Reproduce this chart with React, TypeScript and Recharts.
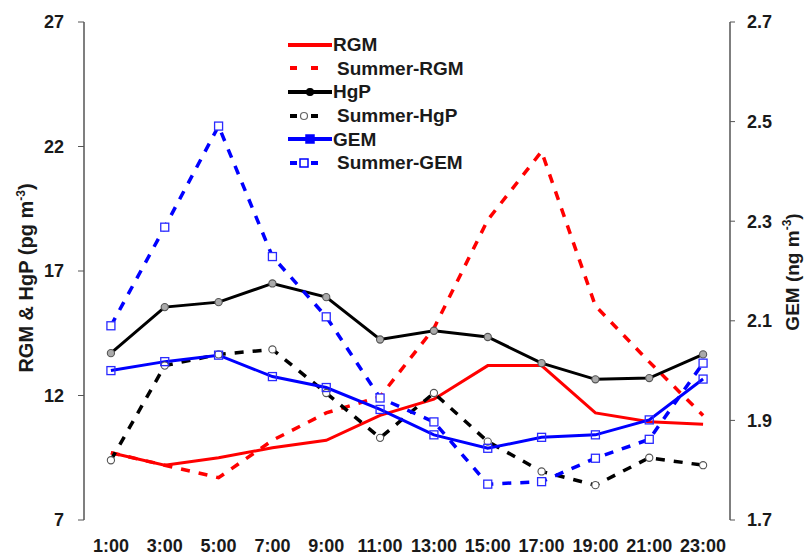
import React from 'react';
import { LineChart, Line, XAxis, YAxis, Legend } from 'recharts';

// hours of the day (x), every second hour
const HOURS = [1, 3, 5, 7, 9, 11, 13, 15, 17, 19, 21, 23];
const HOUR_LABELS = ['1:00', '3:00', '5:00', '7:00', '9:00', '11:00', '13:00', '15:00', '17:00', '19:00', '21:00', '23:00'];
const BAND_EDGES = [0, 2, 4, 6, 8, 10, 12, 14, 16, 18, 20, 22, 24];
const LEFT_TICKS = [7, 12, 17, 22, 27];
const RIGHT_TICKS = [1.7, 1.9, 2.1, 2.3, 2.5, 2.7];

// pg m-3 (left axis)
const RGM = [9.7, 9.2, 9.5, 9.9, 10.2, 11.2, 11.85, 13.2, 13.2, 11.3, 10.95, 10.85];
const SUMMER_RGM = [9.7, 9.2, 8.7, 10.2, 11.3, 11.95, 14.7, 19.05, 21.8, 15.6, 13.35, 11.2];
const HGP = [13.7, 15.55, 15.75, 16.5, 15.95, 14.25, 14.6, 14.35, 13.3, 12.65, 12.7, 13.65];
const SUMMER_HGP = [9.4, 13.2, 13.65, 13.85, 12.1, 10.3, 12.1, 10.15, 8.95, 8.4, 9.5, 9.2];
// ng m-3 (right axis)
const GEM = [2.0, 2.018, 2.031, 1.988, 1.966, 1.922, 1.871, 1.844, 1.866, 1.871, 1.901, 1.983];
const SUMMER_GEM = [2.09, 2.288, 2.491, 2.229, 2.108, 1.945, 1.897, 1.772, 1.777, 1.824, 1.862, 2.015];

const data = HOURS.map((h, i) => ({
  hour: h,
  rgm: RGM[i],
  summerRgm: SUMMER_RGM[i],
  hgp: HGP[i],
  summerHgp: SUMMER_HGP[i],
  gem: GEM[i],
  summerGem: SUMMER_GEM[i],
}));

const FONT = '"Liberation Sans", Arial, sans-serif';
const AXIS = '#555';
const TEXT = '#1a1a1a';
const DASH = '9 9';

const circleDot = (fill: string) => (p: any) => (
  <circle key={`c-${fill}-${p.index}`} cx={p.cx} cy={p.cy} r={3.6} fill={fill} stroke="#555" strokeWidth={1.1} />
);

const squareDot = (fill: string) => (p: any) => (
  <rect key={`s-${fill}-${p.index}`} x={p.cx - 4} y={p.cy - 4} width={8} height={8} fill={fill} stroke="#2a2aff" strokeWidth={1.3} />
);

const LEGEND = [
  { name: 'RGM', color: '#ff0000', dashed: false, marker: null },
  { name: 'Summer-RGM', color: '#ff0000', dashed: true, marker: null },
  { name: 'HgP', color: '#000000', dashed: false, marker: 'circle' },
  { name: 'Summer-HgP', color: '#000000', dashed: true, marker: 'circle' },
  { name: 'GEM', color: '#0000ff', dashed: false, marker: 'square' },
  { name: 'Summer-GEM', color: '#0000ff', dashed: true, marker: 'square' },
];

function LegendBox() {
  return (
    <div style={{ fontFamily: FONT, fontWeight: 'bold', fontSize: 19, color: TEXT }}>
      {LEGEND.map(e => (
        <div key={e.name} style={{ display: 'flex', alignItems: 'center', height: 23.6 }}>
          <svg width={e.dashed ? 49 : 45} height={20} style={{ flexShrink: 0 }}>
            {e.dashed ? (
              <>
                <line x1={2} y1={10} x2={9} y2={10} stroke={e.color} strokeWidth={4} />
                <line x1={23} y1={10} x2={30} y2={10} stroke={e.color} strokeWidth={4} />
              </>
            ) : (
              <line x1={0} y1={10} x2={44} y2={10} stroke={e.color} strokeWidth={4} />
            )}
            {e.marker === 'circle' && (
              <circle cx={e.dashed ? 16 : 22} cy={10} r={3.5}
                fill={e.dashed ? '#fff' : '#000'} stroke={e.dashed ? '#666' : '#000'} strokeWidth={1.2} />
            )}
            {e.marker === 'square' && (
              <rect x={(e.dashed ? 16 : 22) - 4} y={6} width={8} height={8}
                fill={e.dashed ? '#fff' : '#0000ff'} stroke="#0000ff" strokeWidth={1.5} />
            )}
          </svg>
          <span style={{ whiteSpace: 'nowrap', lineHeight: 1 }}>{e.name}</span>
        </div>
      ))}
    </div>
  );
}

const tickStyle = { fontSize: 18, fontWeight: 'bold', fill: TEXT, fontFamily: FONT };

const titleStyle: React.CSSProperties = {
  position: 'absolute',
  transform: 'translate(-50%, -50%) rotate(-90deg)',
  whiteSpace: 'nowrap',
  fontFamily: FONT,
  fontWeight: 'bold',
  color: TEXT,
};

export default function App() {
  return (
    <div style={{ position: 'absolute', left: 0, top: 0, width: 806, height: 559, background: '#fff' }}>
      <LineChart width={806} height={559} data={data} margin={{ top: 22, right: 0, bottom: 0, left: 0 }}>
        <XAxis xAxisId="edges" type="number" dataKey="hour" domain={[0, 24]} ticks={BAND_EDGES}
          height={0} tick={false} tickSize={6} tickLine={{ stroke: AXIS }} axisLine={{ stroke: AXIS, strokeWidth: 1.5 }} />
        <XAxis xAxisId="hours" type="number" dataKey="hour" domain={[0, 24]} ticks={HOURS}
          tickFormatter={(v: number) => HOUR_LABELS[HOURS.indexOf(v)]}
          height={39} tickSize={0} tickMargin={19} tickLine={false} axisLine={false}
          tick={tickStyle} interval={0} />
        <XAxis xAxisId="top" orientation="top" type="number" dataKey="hour" domain={[0, 24]}
          height={0} tick={false} tickLine={false} axisLine={{ stroke: AXIS, strokeWidth: 1.5 }} />
        <YAxis yAxisId="left" width={84} domain={[7, 27]} ticks={LEFT_TICKS} interval={0}
          tickSize={6} tickMargin={14} tick={tickStyle}
          tickLine={{ stroke: AXIS }} axisLine={{ stroke: AXIS, strokeWidth: 1.5 }} />
        <YAxis yAxisId="right" orientation="right" width={76} domain={[1.7, 2.7]} ticks={RIGHT_TICKS} interval={0}
          tickFormatter={(v: number) => v.toFixed(1)}
          tickSize={5} tickMargin={12} tick={tickStyle}
          tickLine={{ stroke: AXIS }} axisLine={{ stroke: AXIS, strokeWidth: 1.5 }} />
        <Legend layout="vertical" align="center" verticalAlign="middle"
          wrapperStyle={{ left: 288, top: 33, width: 220 }} content={() => <LegendBox />} />

        <Line xAxisId="hours" yAxisId="left" dataKey="rgm" name="RGM" stroke="#ff0000" strokeWidth={3}
          dot={false} isAnimationActive={false} />
        <Line xAxisId="hours" yAxisId="left" dataKey="summerRgm" name="Summer-RGM" stroke="#ff0000" strokeWidth={3.5}
          strokeDasharray={DASH} dot={false} isAnimationActive={false} />
        <Line xAxisId="hours" yAxisId="left" dataKey="hgp" name="HgP" stroke="#000" strokeWidth={3}
          dot={circleDot('#aaaaaa')} isAnimationActive={false} />
        <Line xAxisId="hours" yAxisId="left" dataKey="summerHgp" name="Summer-HgP" stroke="#000" strokeWidth={3.5}
          strokeDasharray={DASH} dot={circleDot('#fff')} isAnimationActive={false} />
        <Line xAxisId="hours" yAxisId="right" dataKey="gem" name="GEM" stroke="#0000ff" strokeWidth={3}
          dot={squareDot('none')} isAnimationActive={false} />
        <Line xAxisId="hours" yAxisId="right" dataKey="summerGem" name="Summer-GEM" stroke="#0000ff" strokeWidth={3.5}
          strokeDasharray={DASH} dot={squareDot('#fff')} isAnimationActive={false} />
      </LineChart>

      <div style={{ ...titleStyle, fontSize: 20, left: 26, top: 278 }}>
        RGM &amp; HgP (pg m<sup style={{ fontSize: 12 }}>-3</sup>)
      </div>
      <div style={{ ...titleStyle, fontSize: 19, left: 792, top: 272 }}>
        GEM (ng m<sup style={{ fontSize: 12 }}>-3</sup>)
      </div>
    </div>
  );
}
